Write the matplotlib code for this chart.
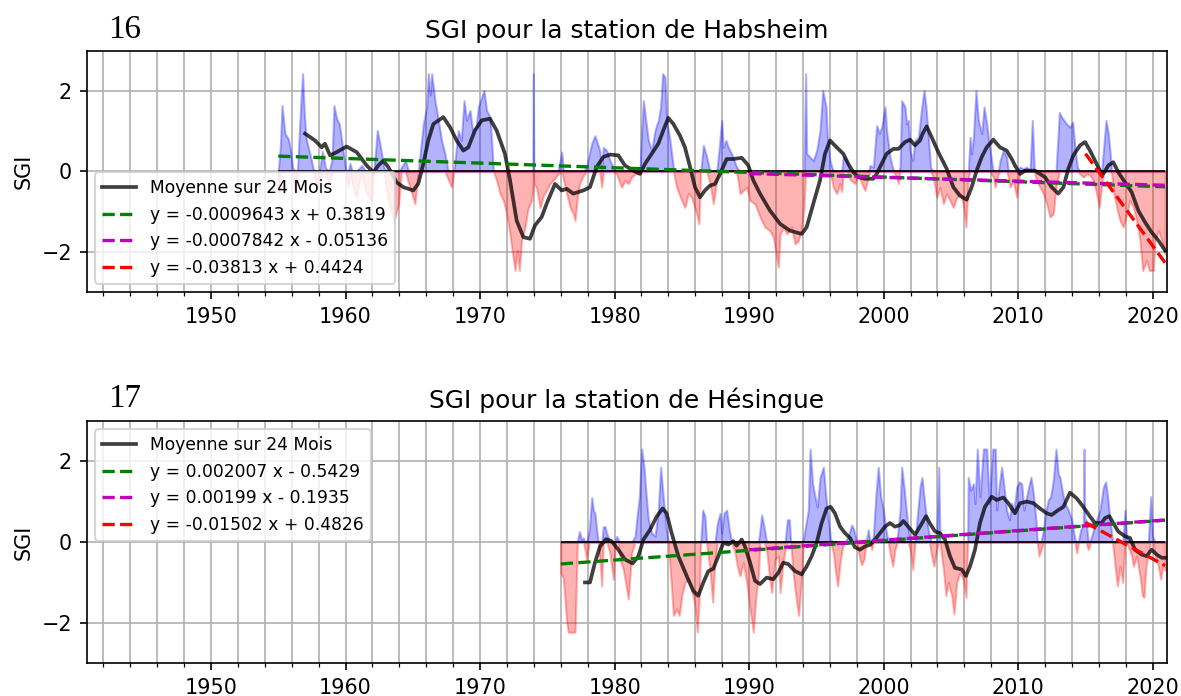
import numpy as np
import matplotlib
matplotlib.use('Agg')
import matplotlib.pyplot as plt
from matplotlib.ticker import MultipleLocator

# --- Habsheim : SGI (decimal years) ---
hab_years = [
    1955.00, 1955.15, 1955.28, 1955.50, 1955.75, 1955.92, 1956.07, 1956.25, 1956.42, 1956.66,
    1956.81, 1956.94, 1957.06, 1957.23, 1957.41, 1957.61, 1957.85, 1958.05, 1958.28, 1958.50,
    1958.78, 1959.00, 1959.14, 1959.34, 1959.54, 1959.71, 1959.89, 1960.03, 1960.20, 1960.33,
    1960.50, 1960.80, 1961.20, 1961.50, 1961.95, 1962.10, 1962.36, 1962.51, 1962.68, 1962.86,
    1963.10, 1963.60, 1963.95, 1964.15, 1964.45, 1964.70, 1965.16, 1965.40, 1965.78, 1966.03,
    1966.15, 1966.30, 1966.40, 1966.65, 1966.90, 1967.14, 1967.39, 1967.64, 1967.89, 1968.05,
    1968.38, 1968.60, 1968.81, 1969.00, 1969.25, 1969.45, 1969.70, 1969.87, 1970.29, 1970.49,
    1970.74, 1970.86, 1970.99, 1971.23, 1971.48, 1971.73, 1971.98, 1972.22, 1972.42, 1972.60,
    1972.77, 1972.92, 1973.09, 1973.34, 1973.59, 1973.83, 1973.92, 1973.96, 1974.00, 1974.20,
    1974.46, 1974.70, 1975.20, 1975.45, 1975.80, 1976.07, 1976.20, 1976.44, 1976.69, 1976.93,
    1977.06, 1977.23, 1977.40, 1977.68, 1977.90, 1978.30, 1978.54, 1978.90, 1979.04, 1979.16,
    1979.41, 1979.66, 1979.90, 1980.15, 1980.40, 1980.53, 1980.77, 1981.02, 1981.27, 1981.52,
    1981.89, 1982.01, 1982.14, 1982.26, 1982.51, 1982.76, 1983.00, 1983.25, 1983.42, 1983.57,
    1983.75, 1983.87, 1984.12, 1984.37, 1984.61, 1984.99, 1985.23, 1985.48, 1985.73, 1986.10,
    1986.27, 1986.40, 1986.60, 1986.85, 1987.09, 1987.34, 1987.59, 1987.75, 1987.96, 1988.08,
    1988.28, 1988.45, 1988.70, 1989.07, 1989.32, 1989.82, 1990.06, 1990.43, 1990.81, 1991.18,
    1991.55, 1991.80, 1992.17, 1992.30, 1992.55, 1992.80, 1993.16, 1993.41, 1993.66, 1993.91,
    1994.08, 1994.20, 1994.28, 1994.52, 1994.77, 1995.02, 1995.27, 1995.47, 1995.72, 1995.81,
    1996.01, 1996.26, 1996.51, 1996.75, 1996.88, 1997.00, 1997.25, 1997.50, 1997.87, 1998.12,
    1998.37, 1998.61, 1998.86, 1998.99, 1999.23, 1999.48, 1999.68, 1999.85, 2000.10, 2000.22,
    2000.47, 2000.72, 2000.97, 2001.09, 2001.22, 2001.34, 2001.59, 2001.71, 2001.83, 2001.96,
    2002.16, 2002.33, 2002.58, 2002.83, 2003.00, 2003.15, 2003.32, 2003.49, 2003.69, 2003.94,
    2004.19, 2004.44, 2004.68, 2004.93, 2005.18, 2005.43, 2005.68, 2005.92, 2006.12, 2006.29,
    2006.42, 2006.54, 2006.67, 2006.86, 2007.04, 2007.29, 2007.46, 2007.66, 2007.91, 2008.15,
    2008.28, 2008.52, 2008.65, 2008.90, 2009.14, 2009.27, 2009.39, 2009.64, 2009.89, 2010.13,
    2010.38, 2010.63, 2010.88, 2011.05, 2011.20, 2011.37, 2011.62, 2011.87, 2012.12, 2012.36,
    2012.61, 2012.81, 2013.06, 2013.23, 2013.41, 2013.60, 2013.85, 2014.05, 2014.22, 2014.40,
    2014.60, 2014.84, 2015.09, 2015.34, 2015.59, 2015.83, 2016.03, 2016.21, 2016.33, 2016.53,
    2016.70, 2016.82, 2016.95, 2017.07, 2017.32, 2017.57, 2017.81, 2018.06, 2018.31, 2018.56,
    2018.81, 2019.05, 2019.25, 2019.55, 2019.75, 2020.05, 2020.17, 2020.42, 2020.67, 2020.92,
]
hab_sgi = [
    -0.55, 0.60, 1.64, 0.94, 0.81, 0.52, 0.10, -0.47, 0.00, 1.60,
    2.43, 1.43, 0.85, 0.60, 0.36, 0.05, -0.40, -0.20, 0.50, 0.10,
    -0.30, 0.30, 1.64, 1.31, 1.18, 0.77, 0.36, 0.00, -0.39, 0.20,
    -0.30, -0.64, 0.15, -0.50, -0.72, 0.00, 1.02, 0.77, 0.44, 0.10,
    -0.60, -1.22, -0.80, 0.10, 0.27, -0.30, -0.80, 0.00, 1.18, 1.60,
    2.43, 1.90, 2.43, 1.76, 1.27, 0.77, 0.44, -0.20, -0.39, 0.00,
    1.02, 0.77, 1.76, 1.27, 1.52, 1.02, 1.10, 1.60, 2.01, 1.52,
    1.35, 0.77, 0.00, -0.22, -0.55, -0.72, -1.05, -1.55, -2.05, -2.46,
    -1.96, -2.46, -1.70, -1.38, -0.89, -0.72, -0.50, 2.43, -0.30, -0.40,
    -0.90, -0.60, -0.30, -0.22, -0.06, 0.48, -0.20, -0.55, -0.89, -1.05,
    -1.22, -0.64, -0.30, -0.10, 0.10, 0.70, 0.89, 0.52, -0.39, 0.60,
    0.52, 0.27, 0.10, -0.06, -0.30, -0.39, -0.22, -0.30, -0.14, -0.06,
    -0.04, 1.00, 1.76, 1.43, 0.77, 0.52, 1.02, 1.27, 1.60, 2.43,
    2.34, 1.27, 0.77, 0.10, -0.39, -0.72, -0.89, -0.55, -0.64, -1.05,
    -1.30, 0.00, 0.65, 0.36, -0.30, -0.80, -0.22, 0.50, 1.27, 0.60,
    0.77, 0.60, 0.44, 0.11, -0.55, -0.39, -0.72, -0.80, -1.13, -1.38,
    -1.47, -1.63, -2.38, -1.55, -1.38, -1.55, -1.38, -1.80, -1.72, -1.38,
    -0.89, 2.43, 0.44, 0.36, 0.27, 0.52, 1.02, 2.01, 1.60, 0.93,
    0.27, -0.39, -0.55, -0.30, -0.50, 0.36, 0.27, -0.20, -0.30, -0.06,
    -0.30, -0.47, -0.14, 0.15, 0.11, 1.14, 0.94, 1.10, 1.60, 1.02,
    0.36, 0.02, -0.14, -0.30, 0.11, 1.76, 1.60, 1.18, 1.27, 0.52,
    0.27, 0.77, 0.85, 1.60, 2.01, 1.60, 0.85, 0.10, -0.14, -0.64,
    -0.39, -0.80, -0.55, -0.72, -0.89, -0.64, -0.55, -0.80, -1.38, -0.14,
    0.85, 0.44, 0.85, 2.01, 1.27, 0.94, 1.60, 1.18, 0.52, -0.14,
    -0.39, -0.06, 0.27, 0.52, 0.36, -0.14, -0.39, -0.22, -0.64, 0.11,
    0.07, 0.11, 0.02, 1.27, 0.02, -0.22, -0.39, -0.55, -0.80, -1.13,
    -1.05, -0.39, 1.47, 1.35, 1.27, 1.18, 1.10, 1.23, 0.60, 0.10,
    -0.06, -0.14, -0.06, -0.10, -0.22, -0.55, -0.89, -0.30, 0.52, 1.27,
    0.94, 0.52, -0.06, -0.47, -0.89, -1.22, -1.38, -1.05, -0.72, -0.89,
    -1.22, -1.71, -2.46, -2.21, -2.46, -2.46, -1.71, -1.47, -1.71, -2.05,
]

# 24-month moving average, Habsheim
hab_mean_years = [
    1956.99, 1957.73, 1958.23, 1958.47, 1958.85, 1959.34, 1960.08, 1960.83, 1961.57, 1962.07,
    1962.44, 1962.81, 1963.18, 1963.80, 1964.30, 1965.04, 1965.41, 1965.78, 1966.15, 1966.53,
    1967.27, 1967.77, 1968.26, 1968.76, 1969.13, 1969.62, 1970.12, 1970.74, 1971.23, 1971.85,
    1972.23, 1972.72, 1973.22, 1973.71, 1974.08, 1974.58, 1974.95, 1975.57, 1975.82, 1976.07,
    1976.44, 1976.93, 1977.31, 1977.68, 1978.17, 1978.67, 1979.16, 1979.66, 1980.28, 1980.77,
    1981.39, 1981.89, 1982.26, 1982.76, 1983.25, 1983.62, 1983.99, 1984.37, 1984.86, 1985.23,
    1985.61, 1985.98, 1986.35, 1986.72, 1987.09, 1987.46, 1987.84, 1988.33, 1988.83, 1989.45,
    1989.94, 1990.31, 1990.81, 1991.55, 1992.30, 1993.04, 1993.91, 1994.28, 1994.77, 1995.27,
    1995.64, 1996.01, 1996.51, 1997.00, 1997.37, 1997.75, 1998.12, 1998.61, 1999.23, 1999.48,
    1999.85, 2000.22, 2000.72, 2001.09, 2001.59, 2001.96, 2002.33, 2002.70, 2002.90, 2003.20,
    2003.57, 2004.06, 2004.68, 2005.18, 2005.67, 2006.17, 2006.54, 2006.91, 2007.29, 2007.66,
    2008.15, 2008.65, 2009.14, 2009.52, 2009.76, 2010.13, 2010.51, 2010.88, 2011.25, 2011.62,
    2011.99, 2012.49, 2012.98, 2013.36, 2013.73, 2014.10, 2014.60, 2014.97, 2015.34, 2015.71,
    2016.08, 2016.33, 2016.70, 2017.07, 2017.44, 2017.94, 2018.43, 2018.93, 2019.43, 2019.92,
    2020.42, 2020.91,
]
hab_mean = [
    0.94, 0.77, 0.60, 0.69, 0.40, 0.48, 0.62, 0.48, 0.15, -0.02,
    0.15, 0.27, 0.11, -0.27, -0.39, -0.47, -0.30, 0.19, 0.77, 1.18,
    1.35, 1.10, 0.77, 0.52, 0.60, 1.02, 1.27, 1.31, 1.02, 0.44,
    -0.22, -1.22, -1.63, -1.67, -1.34, -1.13, -0.80, -0.31, -0.39, -0.47,
    -0.43, -0.55, -0.51, -0.47, -0.39, 0.11, 0.36, 0.42, 0.40, 0.15,
    0.02, -0.06, 0.19, 0.44, 0.69, 1.02, 1.33, 1.18, 0.89, 0.60,
    0.11, -0.39, -0.64, -0.47, -0.35, -0.31, -0.06, 0.31, 0.31, 0.34,
    0.15, -0.22, -0.55, -0.97, -1.30, -1.47, -1.55, -1.38, -0.80, -0.22,
    0.44, 0.77, 0.60, 0.44, 0.19, -0.02, -0.14, -0.18, -0.18, -0.06,
    0.19, 0.44, 0.56, 0.56, 0.73, 0.79, 0.65, 0.77, 0.94, 1.12,
    0.85, 0.48, 0.07, -0.39, -0.60, -0.70, -0.39, 0.02, 0.36, 0.60,
    0.79, 0.60, 0.52, 0.31, 0.15, -0.06, 0.02, 0.02, 0.02, -0.06,
    -0.14, -0.39, -0.55, -0.39, 0.07, 0.40, 0.65, 0.73, 0.52, 0.27,
    0.02, -0.06, 0.15, 0.23, -0.02, -0.27, -0.51, -0.97, -1.26, -1.51,
    -1.71, -1.96,
]

# --- Hésingue : SGI (decimal years) ---
hes_years = [
    1976.00, 1976.19, 1976.44, 1976.56, 1977.06, 1977.13, 1977.23, 1977.38, 1977.55, 1977.68,
    1977.80, 1977.92, 1978.12, 1978.30, 1978.42, 1978.54, 1978.67, 1978.79, 1978.92, 1979.04,
    1979.16, 1979.29, 1979.41, 1979.66, 1979.78, 1979.91, 1980.03, 1980.15, 1980.28, 1980.40,
    1980.65, 1980.90, 1981.02, 1981.15, 1981.27, 1981.52, 1981.64, 1981.84, 1982.01, 1982.19,
    1982.34, 1982.51, 1982.76, 1983.00, 1983.25, 1983.42, 1983.62, 1983.82, 1983.99, 1984.24,
    1984.37, 1984.62, 1984.81, 1984.99, 1985.23, 1985.48, 1985.73, 1985.98, 1986.15, 1986.30,
    1986.40, 1986.55, 1986.72, 1986.84, 1987.09, 1987.29, 1987.46, 1987.64, 1987.84, 1987.96,
    1988.13, 1988.33, 1988.53, 1988.70, 1988.95, 1989.12, 1989.32, 1989.57, 1989.82, 1990.07,
    1990.31, 1990.51, 1990.69, 1990.81, 1990.93, 1991.11, 1991.30, 1991.50, 1991.68, 1991.92,
    1992.17, 1992.30, 1992.49, 1992.67, 1992.84, 1992.99, 1993.09, 1993.29, 1993.53, 1993.68,
    1993.91, 1994.03, 1994.15, 1994.40, 1994.53, 1994.72, 1994.90, 1995.07, 1995.27, 1995.52,
    1995.71, 1995.89, 1996.06, 1996.26, 1996.43, 1996.58, 1996.76, 1996.95, 1997.13, 1997.37,
    1997.62, 1997.79, 1997.99, 1998.24, 1998.37, 1998.54, 1998.69, 1998.86, 1998.99, 1999.11,
    1999.23, 1999.43, 1999.60, 1999.78, 1999.98, 2000.17, 2000.35, 2000.52, 2000.67, 2000.84,
    2001.02, 2001.22, 2001.34, 2001.51, 2001.66, 2001.83, 2002.01, 2002.16, 2002.33, 2002.50,
    2002.70, 2002.85, 2003.00, 2003.20, 2003.40, 2003.57, 2003.74, 2003.94, 2004.09, 2004.19,
    2004.44, 2004.63, 2004.81, 2005.06, 2005.23, 2005.43, 2005.67, 2005.92, 2006.12, 2006.24,
    2006.29, 2006.47, 2006.67, 2006.79, 2006.96, 2007.16, 2007.41, 2007.66, 2007.86, 2008.10,
    2008.30, 2008.40, 2008.60, 2008.77, 2008.95, 2009.14, 2009.34, 2009.51, 2009.69, 2009.89,
    2010.09, 2010.26, 2010.43, 2010.63, 2010.78, 2010.95, 2011.13, 2011.32, 2011.42, 2011.55,
    2011.70, 2011.87, 2012.07, 2012.24, 2012.41, 2012.61, 2012.81, 2012.98, 2013.11, 2013.31,
    2013.48, 2013.73, 2013.98, 2014.22, 2014.35, 2014.47, 2014.64, 2014.84, 2014.89, 2014.95,
    2015.04, 2015.21, 2015.39, 2015.59, 2015.83, 2016.08, 2016.33, 2016.50, 2016.65, 2016.82,
    2017.02, 2017.20, 2017.37, 2017.57, 2017.77, 2017.94, 2018.06, 2018.26, 2018.44, 2018.56,
    2018.81, 2019.05, 2019.23, 2019.35, 2019.50, 2019.67, 2019.85, 2020.00, 2020.17, 2020.42,
    2020.59, 2020.79, 2020.92,
]
hes_sgi = [
    -0.76, -0.90, -1.98, -2.23, -2.23, -1.33, -0.02, 0.26, 0.06, 0.10,
    -0.19, -0.43, 0.30, 1.10, 0.79, 0.71, 0.30, -0.02, -0.51, -1.09,
    0.38, 0.38, 0.22, -0.27, -0.60, -0.92, -0.11, 0.14, 0.06, -0.43,
    -0.68, -1.17, -1.41, -0.84, -0.27, 0.14, 0.55, 1.12, 2.30, 1.85,
    1.20, 0.55, 0.22, 0.14, 0.79, 1.85, 1.12, 0.38, -0.02, -1.17,
    -1.82, -1.66, -1.82, -1.33, -1.00, -0.92, -1.17, -1.58, -2.23, -1.33,
    -0.02, 0.79, 0.63, -0.02, -0.68, -1.49, -0.43, 0.47, 0.71, 0.22,
    0.71, 0.79, 0.30, -0.02, -0.27, -0.60, -0.84, -0.51, -1.00, -1.66,
    -2.23, -1.33, -0.84, 0.30, 0.67, 0.38, -0.19, -0.84, -1.25, -0.43,
    -0.35, -1.25, -0.60, -0.19, 0.55, 0.55, -0.02, -0.84, -1.49, -1.82,
    -0.84, 0.06, 0.30, 0.79, 2.30, 1.44, 1.12, 0.87, 1.60, 1.85,
    1.12, 0.55, 0.06, -0.27, -0.76, -1.09, -0.51, -0.11, -0.02, 0.14,
    0.42, 0.30, -0.02, -0.43, -0.56, -0.43, -0.02, 0.30, -0.02, -0.19,
    0.14, 1.20, 1.85, 1.12, 0.79, 0.30, -0.02, -0.35, -0.60, -0.19,
    0.14, 0.79, 1.85, 1.36, 0.87, 0.30, -0.27, -0.68, -0.02, 0.63,
    1.36, 1.60, 1.12, 0.55, 0.14, -0.35, -0.60, -0.19, 1.85, -0.02,
    -0.68, -1.33, -1.00, -1.33, -1.78, -1.00, -0.76, -0.92, -1.37, -0.02,
    1.60, 1.28, 1.44, 0.95, 2.30, 1.12, 2.30, 2.30, 0.95, 2.30,
    2.30, 0.79, 1.44, 1.85, 1.36, 0.79, 0.55, 0.96, 0.79, 1.36,
    1.49, 1.44, 0.79, 1.12, 1.36, 1.60, 1.20, 0.55, -0.02, -0.35,
    -0.19, 0.30, 0.79, 1.04, 1.12, 1.53, 2.30, 1.68, 1.60, 1.20,
    0.96, 0.79, 0.55, 0.06, -0.27, -0.02, 0.30, 0.40, 2.30, 0.50,
    0.55, -0.19, 0.06, 0.30, 0.55, 0.79, 1.36, 1.49, 1.12, 0.55,
    -0.02, -0.60, -1.09, -0.60, -1.00, 0.79, 0.14, -0.19, -0.35, -0.60,
    -0.35, -0.84, -1.33, -1.37, -0.60, -0.27, 1.12, 0.14, -0.27, -0.60,
    -0.92, -0.52, -0.70,
]

# 24-month moving average, Hésingue
hes_mean_years = [
    1977.80, 1978.17, 1978.54, 1978.92, 1979.36, 1979.78, 1980.28, 1980.77, 1981.34, 1981.77,
    1982.14, 1982.63, 1983.13, 1983.57, 1983.87, 1984.24, 1984.74, 1985.36, 1985.85, 1986.22,
    1986.60, 1986.97, 1987.34, 1987.71, 1988.08, 1988.46, 1988.83, 1989.07, 1989.45, 1989.69,
    1990.07, 1990.44, 1990.81, 1991.30, 1991.80, 1992.17, 1992.54, 1992.92, 1993.41, 1993.91,
    1994.28, 1994.65, 1995.02, 1995.39, 1995.76, 1996.06, 1996.38, 1996.76, 1997.13, 1997.50,
    1997.87, 1998.24, 1998.61, 1998.98, 1999.36, 1999.73, 2000.10, 2000.47, 2000.84, 2001.22,
    2001.46, 2001.83, 2002.33, 2002.70, 2003.15, 2003.44, 2003.82, 2004.19, 2004.56, 2004.93,
    2005.30, 2005.80, 2006.12, 2006.42, 2006.79, 2007.16, 2007.53, 2008.03, 2008.40, 2008.90,
    2009.27, 2009.76, 2010.13, 2010.63, 2011.13, 2011.62, 2012.12, 2012.49, 2012.98, 2013.36,
    2013.85, 2014.35, 2014.84, 2015.34, 2015.71, 2016.20, 2016.45, 2016.77, 2017.07, 2017.44,
    2017.94, 2018.31, 2018.68, 2019.18, 2019.55, 2019.92, 2020.29, 2020.67, 2020.91,
]
hes_mean = [
    -1.00, -1.00, -0.51, -0.11, 0.07, 0.02, -0.19, -0.43, -0.53, -0.35,
    0.06, 0.30, 0.63, 0.83, 0.71, 0.22, -0.35, -0.84, -1.21, -1.33,
    -1.00, -0.72, -0.66, -0.35, -0.02, -0.06, 0.02, -0.09, 0.06, -0.11,
    -0.51, -0.96, -1.04, -0.88, -0.92, -0.76, -0.51, -0.55, -0.72, -0.80,
    -0.60, -0.35, -0.02, 0.47, 0.83, 0.87, 0.71, 0.38, 0.22, 0.10,
    -0.13, -0.19, -0.11, -0.07, 0.06, 0.22, 0.38, 0.47, 0.38, 0.42,
    0.52, 0.38, 0.18, 0.38, 0.64, 0.46, 0.26, 0.22, 0.06, -0.35,
    -0.64, -0.68, -0.84, -0.60, -0.19, 0.47, 0.87, 1.12, 1.04, 1.10,
    0.96, 0.71, 0.96, 1.00, 0.96, 0.83, 0.71, 0.67, 0.79, 0.87,
    1.22, 1.08, 0.87, 0.63, 0.47, 0.47, 0.59, 0.64, 0.47, 0.26,
    0.14, 0.10, -0.19, -0.31, -0.35, -0.19, -0.31, -0.39, -0.39,
]

# Linear trends (x in months since the start of each period)
hab_slopes = [-0.0009643, -0.0007842, -0.03813]
hab_intercepts = [0.3819, -0.05136, 0.4424]
hes_slopes = [0.002007, 0.00199, -0.01502]
hes_intercepts = [-0.5429, -0.1935, 0.4826]
hab_trend_starts = [1955, 1990, 2015]
hes_trend_starts = [1976, 1990, 2015]
last_month = 2020 + 11 / 12
trend_colors = ['g', 'm', 'r']


def equation(a, b):
    sign = '+' if b >= 0 else '-'
    return 'y = %.4g x %s %.4g' % (a, sign, abs(b))


def draw_station(ax, years, sgi, mean_years, mean, slopes, intercepts, starts, name, legend_loc):
    t = np.array(years)
    v = np.array(sgi)
    ax.fill_between(t, 0, np.maximum(v, 0), color='b', alpha=0.3)
    ax.fill_between(t, 0, np.minimum(v, 0), color='r', alpha=0.3)
    ax.hlines(0, t[0], t[-1], color='k', lw=0.8)

    handles = []
    h, = ax.plot(mean_years, mean, color='k', alpha=0.75, lw=1.8,
                 label='Moyenne sur 24 Mois')
    handles.append(h)
    for a, b, start, c in zip(slopes, intercepts, starts, trend_colors):
        n = int(round((last_month - start) * 12)) + 1
        months = np.arange(n)
        h, = ax.plot(start + months / 12, a * months + b, '--', color=c, lw=1.6,
                     label=equation(a, b))
        handles.append(h)

    ax.set_xlim(1940.76, 2021.04)
    ax.set_ylim(-3, 3)
    ax.set_yticks([-2, 0, 2])
    ax.xaxis.set_major_locator(MultipleLocator(10))
    ax.xaxis.set_minor_locator(MultipleLocator(2))
    ax.grid(True, which='both', axis='x')
    ax.grid(True, which='major', axis='y')
    ax.set_axisbelow(True)
    ax.tick_params(labelsize=10)
    ax.set_ylabel('SGI', fontsize=10)
    ax.set_title('SGI pour la station de ' + name, fontsize=12)
    ax.legend(handles=handles, loc=legend_loc, fontsize=8.3)


dpi = 149
fig = plt.figure(figsize=(1181 / dpi, 696 / dpi), dpi=dpi)
ax1 = fig.add_axes([0.0734, 0.580, 0.9145, 0.3472])
ax2 = fig.add_axes([0.0734, 0.047, 0.9145, 0.3485])

draw_station(ax1, hab_years, hab_sgi, hab_mean_years, hab_mean,
             hab_slopes, hab_intercepts, hab_trend_starts, 'Habsheim', 'lower left')
draw_station(ax2, hes_years, hes_sgi, hes_mean_years, hes_mean,
             hes_slopes, hes_intercepts, hes_trend_starts, 'Hésingue', 'upper left')

fig.text(108 / 1181, 1 - 38 / 696, '16', family='Liberation Serif', fontsize=16)
fig.text(108 / 1181, 1 - 407 / 696, '17', family='Liberation Serif', fontsize=16)

fig.savefig('out.png', dpi=dpi)
